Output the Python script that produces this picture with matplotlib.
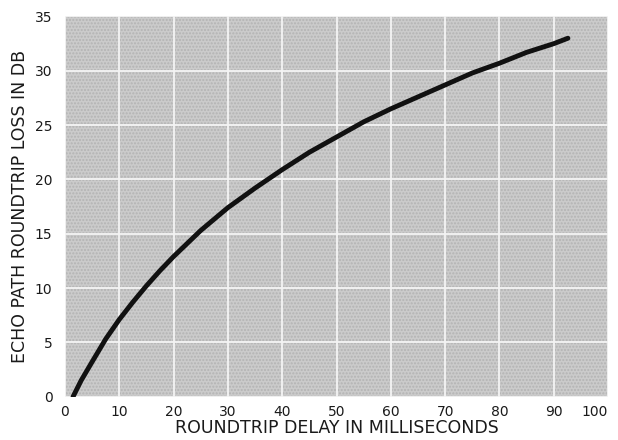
import matplotlib.pyplot as plt

# values (delay ms, loss dB)
delay_ms = [1.5, 3, 5, 7.5, 10, 12.5, 15, 17.5, 20, 25, 30, 35, 40, 45, 50, 55, 60, 65, 70, 75, 80, 85, 90, 92.6]
loss_db = [0, 1.5, 3.2, 5.3, 7.1, 8.7, 10.2, 11.6, 12.9, 15.3, 17.4, 19.2, 20.9, 22.5, 23.9, 25.3, 26.5, 27.6, 28.7, 29.8, 30.7, 31.7, 32.5, 33.0]

x_ticks = list(range(0, 101, 10))
y_ticks = list(range(0, 36, 5))

plt.rcParams['font.family'] = ['DejaVu Sans']

fig = plt.figure(figsize=(6.18, 4.40), dpi=100)
ax = fig.add_axes([0.105, 0.0984, 0.879, 0.8641])
ax.set_facecolor('#cbcbcb')

# fake the stippled paper look with a dotted hatch
ax.add_patch(plt.Rectangle((0, 0), 100, 35, facecolor='none', edgecolor='#b3b3b3',
                           hatch='.....', linewidth=0, zorder=0.5))

ax.plot(delay_ms, loss_db, color='#111111', linewidth=3.5, solid_capstyle='round', zorder=3)

ax.set_xlim(0, 100)
ax.set_ylim(0, 35)
ax.set_xticks(x_ticks)
ax.set_yticks(y_ticks)
ax.grid(True, color='#f4f4f4', linewidth=1.3, zorder=1)
ax.set_axisbelow(True)
for s in ax.spines.values():
    s.set_visible(False)
ax.tick_params(length=0, labelsize=10, colors='#1a1a1a')
ax.tick_params(axis='x', pad=6)
ax.tick_params(axis='y', pad=9)
# last x label sits inside the right edge as in the original
ax.get_xticklabels()[-1].set_horizontalalignment('right')
ax.get_xticklabels()[-1].set_x(101)

ax.set_xlabel('ROUNDTRIP DELAY IN MILLISECONDS', fontsize=12.5, labelpad=0, color='#1a1a1a')
ax.set_ylabel('ECHO PATH ROUNDTRIP LOSS IN DB', fontsize=12.5, labelpad=4, color='#1a1a1a')

fig.savefig('out.png', dpi=100, facecolor='white')
